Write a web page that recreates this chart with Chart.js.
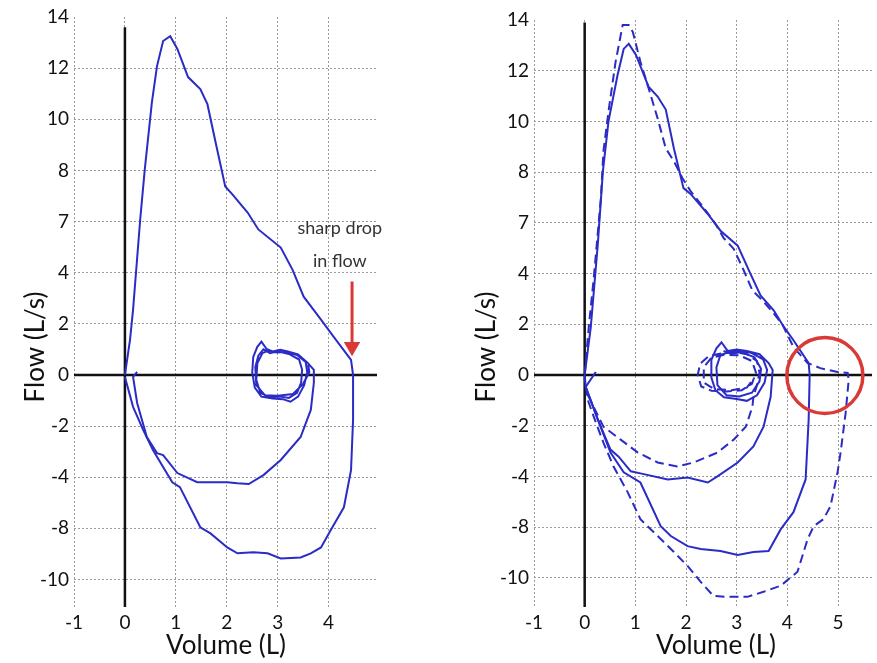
<!DOCTYPE html>
<html>
<head>
<meta charset="utf-8">
<script src="https://cdn.jsdelivr.net/npm/chart.js@4"></script>
<style>
  body { margin: 0; background: #fff; width: 877px; height: 663px; position: relative; overflow: hidden; }
  canvas { position: absolute; top: 0; }
</style>
</head>
<body>
<canvas id="leftChart" width="440" height="663" style="left:0"></canvas>
<canvas id="rightChart" width="437" height="663" style="left:440px"></canvas>
<script>
// y ticks are evenly spaced on the plot, but the printed labels are not
const yTickValues = [14, 12, 10, 8, 6, 4, 2, 0, -2, -4, -6, -8];
const yTickLabels = ["14", "12", "10", "8", "7", "4", "2", "0", "-2", "-4", "-8", "-10"];
const leftXTicks = [-1, 0, 1, 2, 3, 4];
const rightXTicks = [-1, 0, 1, 2, 3, 4, 5];

// [volume, flow] pairs
const leftForced = [
  [0, 0], [0.10, 1.37], [0.16, 2.55], [0.30, 6.08], [0.39, 8.04], [0.53, 10.67], [0.63, 12.08],
  [0.75, 13.06], [0.89, 13.25], [1.03, 12.75], [1.24, 11.65], [1.48, 11.18], [1.62, 10.59],
  [1.78, 9.10], [1.97, 7.37], [2.11, 7.06], [2.41, 6.35], [2.62, 5.69], [3.06, 4.98], [3.29, 4.12],
  [3.51, 3.06], [3.85, 2.16], [4.10, 1.49], [4.44, 0.59], [4.48, 0],
  [4.48, -1.76], [4.44, -3.73], [4.30, -5.18], [4.04, -6.08], [3.85, -6.75], [3.65, -6.98],
  [3.45, -7.14], [3.06, -7.18], [2.80, -6.98], [2.52, -6.94], [2.21, -6.98], [2.01, -6.75],
  [1.68, -6.20], [1.48, -5.96], [1.08, -4.39], [0.93, -4.20], [0.55, -2.94], [0.36, -2.16],
  [0.16, -1.25], [0, -0.08]
];
const leftSmall = [
  [0.24, 0.12], [0.16, -0.08], [0.24, -1.10], [0.43, -2.43], [0.63, -3.06], [0.75, -3.14],
  [1.03, -3.84], [1.42, -4.20], [2.01, -4.20], [2.21, -4.24], [2.43, -4.27], [2.72, -3.92],
  [3.06, -3.33], [3.45, -2.43], [3.65, -1.37], [3.71, -0.31], [3.71, 0.20], [3.59, 0.47]
];
const leftTidal = [
  [3.59, 0.47], [3.40, 0.80], [3.20, 0.92], [3.05, 0.98], [2.90, 0.92], [2.78, 1.02], [2.68, 1.30],
  [2.60, 1.10], [2.52, 0.70], [2.50, 0.10], [2.55, -0.50], [2.68, -0.85], [2.90, -0.92], [3.10, -0.95],
  [3.25, -1.05], [3.40, -0.85], [3.52, -0.40], [3.58, 0.10], [3.55, 0.50], [3.38, 0.78], [3.15, 0.90],
  [2.98, 0.88], [2.82, 0.95], [2.70, 0.85], [2.60, 0.45], [2.58, -0.20], [2.66, -0.70], [2.85, -0.88],
  [3.05, -0.85], [3.22, -0.90], [3.38, -0.70], [3.46, -0.30], [3.48, 0.20], [3.42, 0.60], [3.22, 0.82],
  [3.00, 0.92], [2.85, 0.85], [2.72, 1.00], [2.62, 0.75], [2.56, 0.30], [2.58, -0.40], [2.75, -0.80],
  [3.00, -0.82], [3.30, -0.75], [3.50, -0.35], [3.62, 0.10], [3.60, 0.40]
];

const rightForced = [
  [0, 0], [0.12, 1.88], [0.26, 5.18], [0.36, 8.04], [0.47, 10.0], [0.65, 11.84], [0.77, 12.86],
  [0.87, 13.06], [1.01, 12.63], [1.26, 11.37], [1.44, 10.98], [1.60, 10.47], [1.76, 8.94],
  [1.95, 7.37], [2.09, 7.14], [2.43, 6.35], [2.68, 5.69], [3.02, 5.10], [3.27, 4.00], [3.47, 3.14],
  [3.73, 2.55], [3.91, 1.96], [4.12, 1.37], [4.42, 0.47], [4.44, 0],
  [4.42, -1.76], [4.36, -4.12], [4.12, -5.41], [3.87, -6.08], [3.63, -6.94], [3.33, -6.98],
  [3.02, -7.10], [2.68, -6.94], [2.29, -6.86], [2.03, -6.75], [1.70, -6.35], [1.50, -5.96],
  [1.10, -4.24], [0.77, -3.84], [0.51, -3.06], [0.26, -1.76], [0.02, -0.47], [0, 0]
];
const rightSmall = [
  [0.22, 0.12], [0.02, -0.47], [0.26, -1.76], [0.51, -2.94], [0.67, -3.22], [0.91, -3.80],
  [1.10, -3.88], [1.64, -4.12], [2.03, -4.04], [2.43, -4.24], [2.62, -4.00], [3.02, -3.45],
  [3.33, -2.82], [3.53, -2.04], [3.67, -0.86], [3.71, 0.20], [3.63, 0.47]
];
const rightTidal = [
  [3.63, 0.47], [3.45, 0.82], [3.20, 0.95], [3.00, 1.00], [2.82, 0.95], [2.70, 1.29], [2.60, 1.05],
  [2.50, 0.60], [2.50, -0.10], [2.58, -0.60], [2.75, -0.88], [3.00, -0.95], [3.20, -1.02], [3.40, -0.80],
  [3.55, -0.30], [3.60, 0.20], [3.52, 0.62], [3.28, 0.88], [3.05, 0.95], [2.85, 0.90], [2.68, 0.80],
  [2.60, 0.30], [2.62, -0.40], [2.80, -0.80], [3.05, -0.85], [3.30, -0.70], [3.45, -0.25], [3.48, 0.25],
  [3.35, 0.70], [3.10, 0.90], [2.88, 0.85], [2.74, 0.95]
];
const rightForcedDash = [
  [0, 0], [0.08, 1.88], [0.18, 3.84], [0.32, 6.98], [0.37, 8.82], [0.47, 10.39], [0.61, 12.35],
  [0.75, 13.80], [0.87, 13.80], [0.95, 13.53], [1.10, 12.35], [1.24, 11.45], [1.44, 10.12],
  [1.60, 8.94], [1.76, 8.43], [1.93, 7.76], [2.09, 7.25], [2.35, 6.59], [2.58, 5.96], [2.74, 5.41],
  [2.94, 4.98], [3.14, 4.12], [3.31, 3.33], [3.51, 2.94], [3.73, 2.43], [3.91, 1.96], [4.12, 1.10],
  [4.40, 0.47], [4.65, 0.27], [4.99, 0.12], [5.19, 0.08], [5.21, -0.20], [5.15, -1.49], [5.05, -3.06],
  [4.99, -3.84], [4.85, -5.18], [4.71, -5.69], [4.52, -5.96], [4.40, -6.47], [4.20, -7.76],
  [3.87, -8.31], [3.53, -8.55], [3.21, -8.75], [2.82, -8.75], [2.54, -8.71], [2.29, -8.16],
  [2.03, -7.53], [1.76, -6.98], [1.44, -6.35], [1.10, -5.69], [0.85, -4.63], [0.57, -3.61],
  [0.37, -2.67], [0.18, -1.65], [0.06, -0.98], [0, -0.12]
];
const rightSmallDash = [
  [0.06, -0.78], [0.37, -2.04], [0.71, -2.55], [1.05, -3.06], [1.44, -3.45], [1.83, -3.61],
  [2.15, -3.45], [2.62, -3.06], [2.94, -2.55], [3.18, -2.04], [3.31, -1.25], [3.33, -0.86],
  [3.40, -0.40], [3.45, 0.10], [3.40, 0.55], [3.20, 0.82], [2.95, 0.90], [2.70, 0.85], [2.45, 0.75],
  [2.28, 0.45], [2.23, 0.00], [2.30, -0.45], [2.50, -0.62], [2.80, -0.65], [3.10, -0.60], [3.30, -0.35],
  [3.38, 0.10], [3.30, 0.55], [3.05, 0.78], [2.75, 0.80], [2.50, 0.68], [2.35, 0.30], [2.35, -0.30],
  [2.55, -0.55], [2.90, -0.60], [3.20, -0.50], [3.35, -0.10]
];

// arrow and circle that mark the end of the expiration
const arrowLine = [[4.46, 3.65], [4.46, 1.1]];
const circleMark = [[4.74, -0.02]];

const BLUE = "#2b2bc6";
const RED = "#d93a36";
const FONT = "Lato";

function trace(points, opts) {
  return Object.assign({
    data: points.map(p => ({ x: p[0], y: p[1] })),
    showLine: true,
    borderColor: BLUE,
    borderWidth: 2,
    pointRadius: 0,
    tension: 0,
    order: 1
  }, opts || {});
}

function axisLines(yTop, yBottom, xLeft, xRight) {
  return [
    trace([[0, yTop], [0, yBottom]], { borderColor: "#111", borderWidth: 2.5, order: 5 }),
    trace([[xLeft, 0], [xRight, 0]], { borderColor: "#111", borderWidth: 2.5, order: 5 })
  ];
}

function titlesPlugin(xTitleX, yTitleX, extra) {
  return {
    id: "titles",
    afterDraw(chart) {
      const ctx = chart.ctx;
      ctx.save();
      ctx.fillStyle = "#111";
      ctx.font = "26px " + FONT;
      ctx.textAlign = "center";
      ctx.textBaseline = "middle";
      ctx.fillText("Volume (L)", xTitleX, 646);
      ctx.translate(yTitleX, 347);
      ctx.rotate(-Math.PI / 2);
      ctx.fillText("Flow (L/s)", 0, 0);
      ctx.restore();
      if (extra) extra(chart);
    }
  };
}

function makeOptions(xMax, xTicks, yMin, yAxisWidth, padTop, padRight) {
  return {
    responsive: false,
    animation: false,
    layout: { autoPadding: false, padding: { top: padTop, right: padRight, left: 0, bottom: 0 } },
    plugins: { legend: { display: false }, tooltip: { enabled: false } },
    scales: {
      x: {
        type: "linear", min: -1, max: xMax,
        afterBuildTicks: s => { s.ticks = xTicks.map(v => ({ value: v })); },
        afterFit: s => { s.height = 56; },
        ticks: { color: "#111", font: { family: FONT, size: 19 }, padding: 4, autoSkip: false, maxRotation: 0 },
        grid: { color: "#9a9a9a", lineWidth: 1, drawTicks: false },
        border: { display: false, dash: [2, 2] }
      },
      y: {
        type: "linear", min: yMin, max: 14,
        afterBuildTicks: s => { s.ticks = yTickValues.map(v => ({ value: v })); },
        afterFit: s => { s.width = yAxisWidth; },
        ticks: {
          color: "#111", font: { family: FONT, size: 19 }, padding: 5, autoSkip: false,
          callback: v => yTickLabels[yTickValues.indexOf(v)]
        },
        grid: {
          color: c => (c.tick && c.tick.value === 14) ? "rgba(0,0,0,0)" : "#9a9a9a",
          lineWidth: 1, drawTicks: false
        },
        border: { display: false, dash: [2, 2] }
      }
    }
  };
}

document.addEventListener("DOMContentLoaded", () => {
  // left panel
  const leftNote = chart => {
    const ctx = chart.ctx;
    const x = chart.scales.x.getPixelForValue(4.22);
    ctx.save();
    ctx.fillStyle = "#333";
    ctx.font = "18px " + FONT;
    ctx.textAlign = "center";
    ctx.textBaseline = "middle";
    ctx.fillText("sharp drop", x, chart.scales.y.getPixelForValue(5.75));
    ctx.fillText("in flow", x, chart.scales.y.getPixelForValue(4.45));
    ctx.restore();
  };

  new Chart(document.getElementById("leftChart"), {
    type: "scatter",
    data: {
      datasets: [
        trace(leftForced),
        trace(leftSmall.concat(leftTidal)),
        trace(arrowLine, {
          borderColor: RED, borderWidth: 3,
          pointRadius: [0, 6.5], pointStyle: "triangle", pointRotation: 180,
          pointBackgroundColor: RED, pointBorderColor: RED, order: 0
        })
      ].concat(axisLines(13.6, -9.08, -1, 4.95))
    },
    options: makeOptions(4.95, leftXTicks, -9.08, 74, 17, 63),
    plugins: [titlesPlugin(226, 36, leftNote)]
  });

  // right panel
  new Chart(document.getElementById("rightChart"), {
    type: "scatter",
    data: {
      datasets: [
        trace(rightForced),
        trace(rightSmall.concat(rightTidal)),
        trace(rightForcedDash, { borderDash: [9, 5] }),
        trace(rightSmallDash, { borderDash: [9, 5] }),
        {
          data: circleMark.map(p => ({ x: p[0], y: p[1] })),
          pointRadius: 38, pointStyle: "circle",
          pointBackgroundColor: "rgba(0,0,0,0)", pointBorderColor: RED, pointBorderWidth: 3.5,
          order: 0
        }
      ].concat(axisLines(13.9, -9.15, -1, 5.67))
    },
    options: makeOptions(5.67, rightXTicks, -9.15, 94, 20, 5),
    plugins: [titlesPlugin(276, 47)]
  });
});
</script>
</body>
</html>
